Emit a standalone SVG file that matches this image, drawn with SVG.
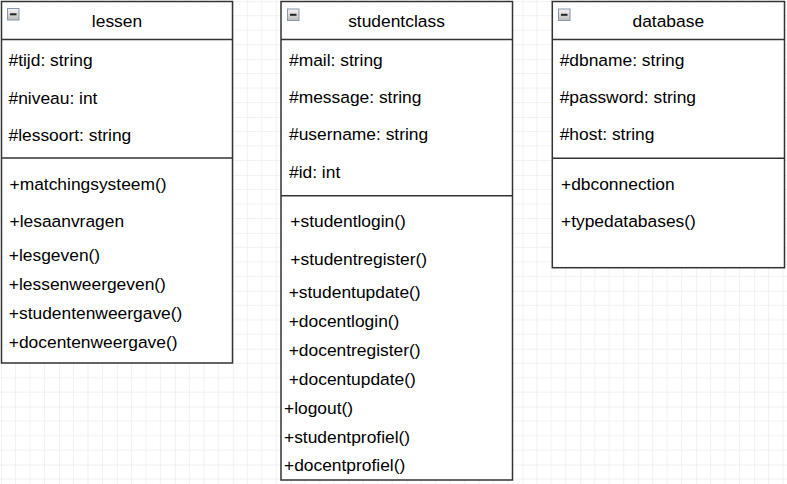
<svg xmlns="http://www.w3.org/2000/svg" width="787" height="484" viewBox="0 0 787 484">
<style>
.box{fill:#ffffff;stroke:#333333;stroke-width:1.5}
.ln{stroke:#333333;stroke-width:1.5;fill:none}
.t{font-family:"Liberation Sans",Arial,sans-serif;font-size:17.4px;fill:#000000}
.c{text-anchor:middle}
.ic{fill:url(#icg);stroke:#8796a8;stroke-width:1}
.im{stroke:#222222;stroke-width:2}
</style>
<defs>
<linearGradient id="icg" x1="0" y1="0" x2="0" y2="1">
<stop offset="0" stop-color="#f4f4f4"/>
<stop offset="1" stop-color="#bcbcbc"/>
</linearGradient>
<pattern id="grid" x="1.1" y="1.2" width="57.92" height="57.92" patternUnits="userSpaceOnUse">
<path d="M14.48 0V57.92M28.96 0V57.92M43.44 0V57.92M0 14.48H57.92M0 28.96H57.92M0 43.44H57.92" stroke="#f1f1f1" stroke-width="1" fill="none"/>
<path d="M0 0V57.92M0 0H57.92" stroke="#e4e4e4" stroke-width="1" fill="none"/>
</pattern>
</defs>
<rect width="787" height="484" fill="#ffffff"/>
<rect width="787" height="484" fill="url(#grid)"/>
<g id="connectors"></g>
<g id="lessen">
<rect class="box" x="1.5" y="1.5" width="231" height="361.5"/>
<line class="ln" x1="1.5" y1="39.5" x2="232.5" y2="39.5"/>
<line class="ln" x1="1.5" y1="158" x2="232.5" y2="158"/>
<rect class="ic" x="7.5" y="8.5" width="11.5" height="11.5"/>
<line class="im" x1="10" y1="14.3" x2="16.5" y2="14.3"/>
<text class="t c" x="117" y="26.7">lessen</text>
<text class="t" x="8.5" y="66">#tijd: string</text>
<text class="t" x="8.5" y="103.5">#niveau: int</text>
<text class="t" x="8.5" y="141">#lessoort: string</text>
<text class="t" x="9.5" y="190">+matchingsysteem()</text>
<text class="t" x="9.5" y="226.7">+lesaanvragen</text>
<text class="t" x="8.8" y="260.5">+lesgeven()</text>
<text class="t" x="8.8" y="290">+lessenweergeven()</text>
<text class="t" x="8.8" y="319">+studentenweergave()</text>
<text class="t" x="8.8" y="347.5">+docentenweergave()</text>
</g>
<g id="studentclass">
<rect class="box" x="281" y="1.5" width="231.5" height="478.5"/>
<line class="ln" x1="281" y1="39.5" x2="512.5" y2="39.5"/>
<line class="ln" x1="281" y1="195.7" x2="512.5" y2="195.7"/>
<rect class="ic" x="287.5" y="9" width="11.5" height="11.5"/>
<line class="im" x1="290" y1="14.8" x2="296.5" y2="14.8"/>
<text class="t c" x="396.5" y="26.7">studentclass</text>
<text class="t" x="289" y="65.5">#mail: string</text>
<text class="t" x="289" y="103">#message: string</text>
<text class="t" x="289" y="140.3">#username: string</text>
<text class="t" x="289" y="178">#id: int</text>
<text class="t" x="290.3" y="227">+studentlogin()</text>
<text class="t" x="290.3" y="264.5">+studentregister()</text>
<text class="t" x="288.7" y="297.5">+studentupdate()</text>
<text class="t" x="288.7" y="326.7">+docentlogin()</text>
<text class="t" x="288.7" y="355.7">+docentregister()</text>
<text class="t" x="288.7" y="384.5">+docentupdate()</text>
<text class="t" x="284" y="413.5">+logout()</text>
<text class="t" x="284" y="442.5">+studentprofiel()</text>
<text class="t" x="284" y="471.3">+docentprofiel()</text>
</g>
<g id="database">
<rect class="box" x="552.3" y="1.5" width="232.2" height="266.2"/>
<line class="ln" x1="552.3" y1="39.5" x2="784.5" y2="39.5"/>
<line class="ln" x1="552.3" y1="158.3" x2="784.5" y2="158.3"/>
<rect class="ic" x="558.5" y="9" width="11.5" height="11.5"/>
<line class="im" x1="561" y1="14.8" x2="567.5" y2="14.8"/>
<text class="t c" x="668.3" y="26.7">database</text>
<text class="t" x="559.7" y="65.5">#dbname: string</text>
<text class="t" x="559.7" y="103">#password: string</text>
<text class="t" x="559.7" y="140.3">#host: string</text>
<text class="t" x="561" y="189.5">+dbconnection</text>
<text class="t" x="561" y="227">+typedatabases()</text>
</g>
</svg>
